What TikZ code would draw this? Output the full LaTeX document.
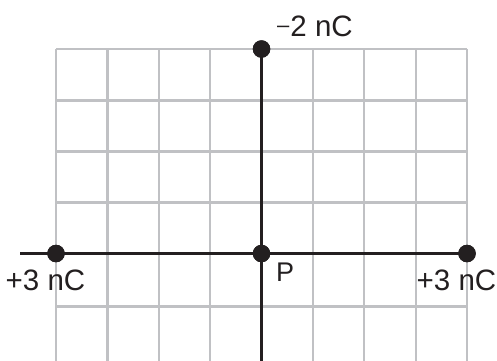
\documentclass[tikz,border=0pt]{standalone}
\usepackage{fontspec}
\setmainfont{Liberation Sans}
\definecolor{gridgray}{RGB}{192,193,196}
\definecolor{ink}{RGB}{35,31,32}
\begin{document}
\begin{tikzpicture}[x=1pt,y=-1pt,
  gridline/.style={draw=gridgray,line width=2.2pt},
  axisline/.style={draw=ink,line width=2.6pt},
  charge/.style={circle,fill=ink,inner sep=0pt,minimum size=17.5pt},
  lbl/.style={font=\fontsize{29.5}{29.5}\selectfont,text=ink,inner sep=0pt,anchor=base west},
  lblsmall/.style={font=\fontsize{27}{27}\selectfont,text=ink,inner sep=0pt,anchor=base west}]
\useasboundingbox (0,0) rectangle (497,360);
\begin{scope}
\clip (0,0) rectangle (497,360);
% grid
\foreach \gx in {56,107.4,158.8,210.1,261.5,312.9,364.3,415.6,467}
  \draw[gridline] (\gx,49) -- (\gx,362);
\foreach \gy in {49,100.5,151.5,202.5,253.5,306.5}
  \draw[gridline] (56,\gy) -- (467,\gy);
\end{scope}
% nodes
\coordinate (Lend) at (20,253.5);
\coordinate (Bend) at (261.5,362);
\node[charge] (qT) at (261.5,49) {};
\node[charge] (qL) at (56,253.5) {};
\node[charge] (qR) at (467,253.5) {};
\node[charge] (P) at (261.5,253.5) {};
% axes
\begin{scope}
\clip (0,0) rectangle (497,360);
\draw[axisline] (Lend) -- (qR.center);
\draw[axisline] (qT.center) -- (Bend);
\end{scope}
\node[charge] at (qT) {};
\node[charge] at (qL) {};
\node[charge] at (qR) {};
\node[charge] at (P) {};
% labels
\node[lbl] (tT) at (277,36) {\raisebox{3.5pt}{\fontsize{22}{22}\selectfont –}\kern1pt2 nC};
\node[lbl] (tL) at (5.5,290) {+3 nC};
\node[lbl] (tR) at (416.5,290) {+3 nC};
\node[lblsmall] (tP) at (276,281.7) {P};
\end{tikzpicture}
\end{document}
